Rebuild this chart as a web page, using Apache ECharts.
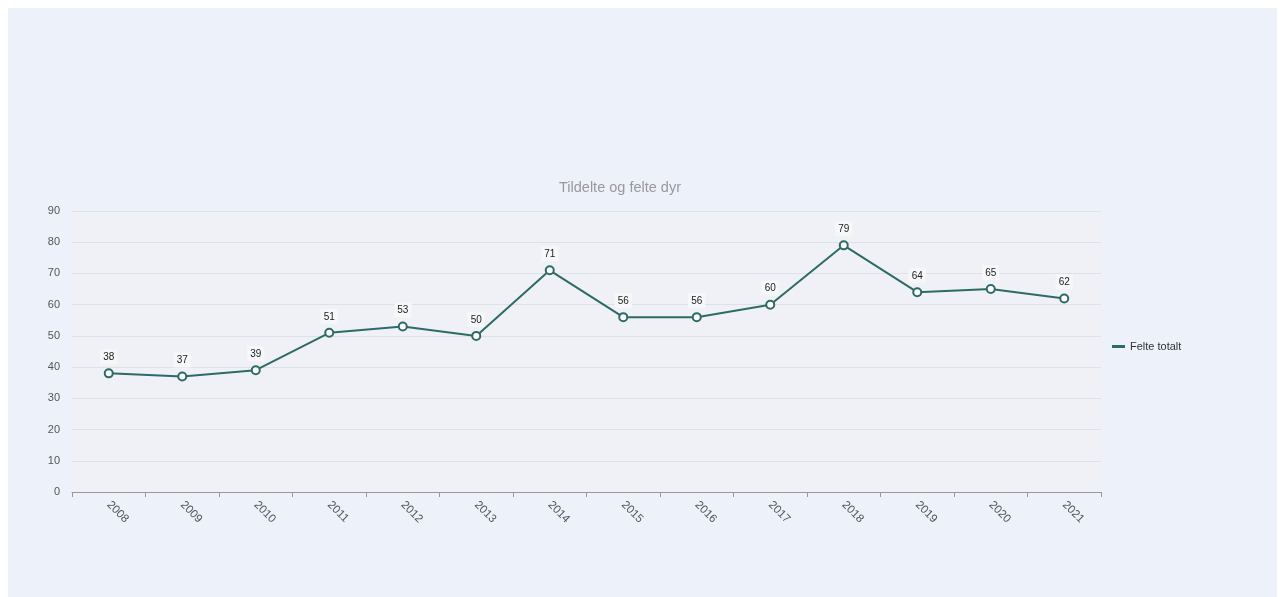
<!DOCTYPE html>
<html>
<head>
<meta charset="utf-8">
<script src="https://cdn.jsdelivr.net/npm/echarts@6/dist/echarts.min.js"></script>
<style>
  body { margin: 8px; background: #fff; }
  #chart { width: 1272px; height: 600px; background: #edf1f9; }
</style>
</head>
<body>
<div id="chart"></div>
<script>
const years = ["2008", "2009", "2010", "2011", "2012", "2013", "2014", "2015", "2016", "2017", "2018", "2019", "2020", "2021"]
const felteTotalt = [38, 37, 39, 51, 53, 50, 71, 56, 56, 60, 79, 64, 65, 62]
const chartTitle = "Tildelte og felte dyr"
const seriesName = "Felte totalt"

const myChart = echarts.init(document.getElementById("chart"))

myChart.setOption({
  backgroundColor: "#edf1f9",
  textStyle: { fontFamily: "Arial, Liberation Sans, sans-serif" },
  title: {
    text: chartTitle,
    left: 546,
    top: 167,
    textStyle: { color: "#999", fontSize: 14.5, fontWeight: "normal" }
  },
  legend: {
    orient: "vertical",
    left: 1099,
    top: 328,
    icon: "rect",
    itemWidth: 13,
    itemHeight: 3,
    itemGap: 6,
    textStyle: { color: "#333", fontSize: 11 },
    data: [seriesName]
  },
  grid: {
    left: 64,
    right: 179,
    top: 203,
    bottom: 116,
    show: true,
    backgroundColor: "#eff1f6",
    borderWidth: 0
  },
  xAxis: {
    type: "category",
    data: years,
    boundaryGap: true,
    axisLine: { lineStyle: { color: "#999" } },
    axisTick: { show: true, length: 5, lineStyle: { color: "#999" } },
    axisLabel: { rotate: -45, color: "#555", fontSize: 11.5, margin: 11 }
  },
  yAxis: {
    type: "value",
    min: 0,
    max: 90,
    interval: 10,
    axisLabel: { color: "#555", fontSize: 11, margin: 12 },
    splitLine: { lineStyle: { color: "#dde2ea" } },
    minorTick: { show: false, splitNumber: 3 },
    minorSplitLine: { show: true, lineStyle: { color: "#f1f2f5" } }
  },
  series: [
    {
      name: seriesName,
      type: "line",
      data: felteTotalt,
      symbol: "emptyCircle",
      symbolSize: 8,
      color: "#2d6b66",
      lineStyle: { width: 2, color: "#2d6b66" },
      itemStyle: { color: "#2d6b66", borderWidth: 2 },
      label: {
        show: true,
        position: "top",
        distance: 4,
        color: "#222",
        fontSize: 10,
        backgroundColor: "#f6f7f9",
        padding: [3, 3, 2, 3]
      }
    }
  ]
})

window.addEventListener("resize", () => {
  myChart.resize()
})
</script>
</body>
</html>
